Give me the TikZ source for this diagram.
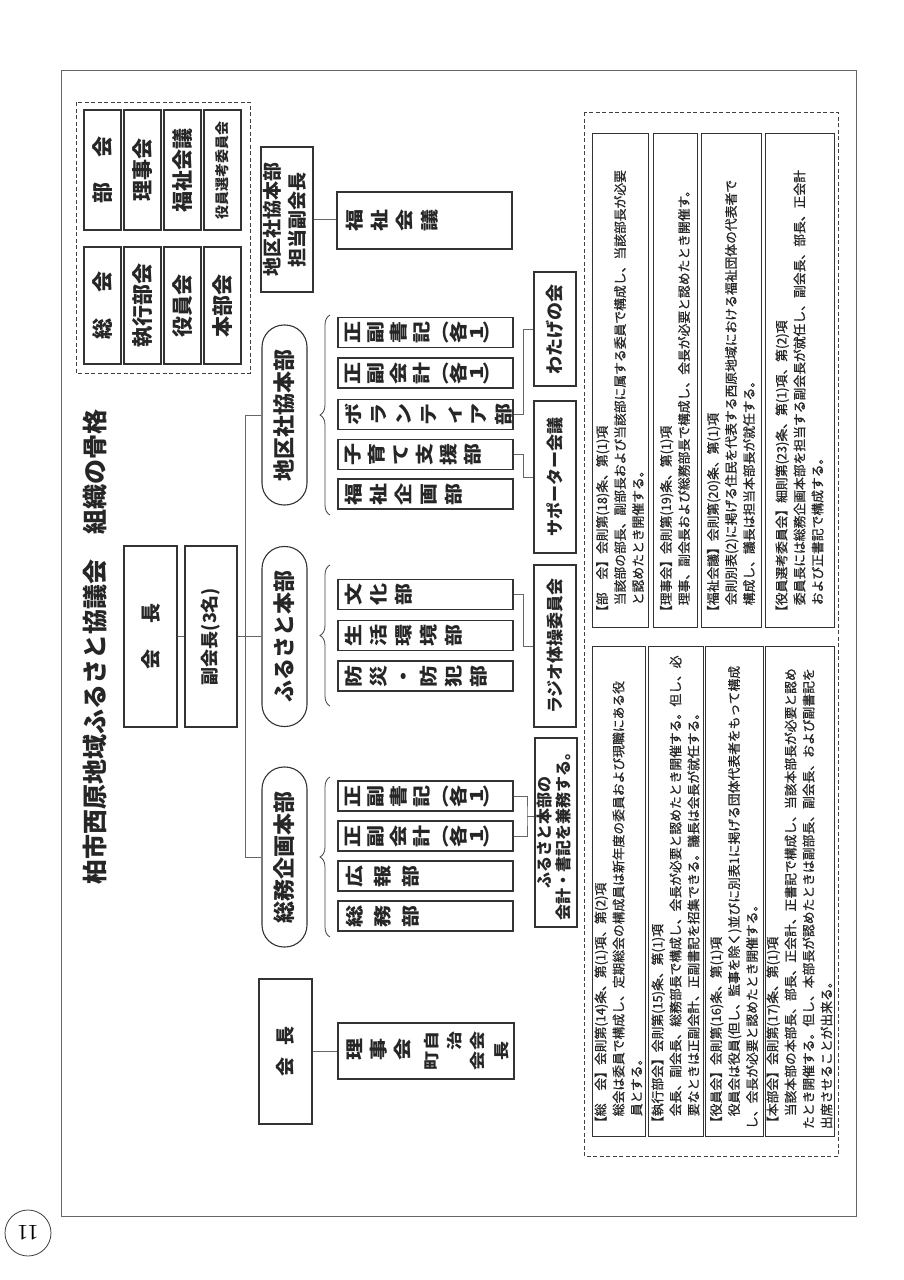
\documentclass[tikz,border=0pt]{standalone}
\usepackage{fontspec}
\usepackage{graphicx}
\setmainfont{Noto Sans CJK JP}
\newfontfamily\notefont[FakeBold=0.8]{Noto Sans CJK JP}
\newfontfamily\pnum{Liberation Serif}
\usetikzlibrary{decorations.pathreplacing}
\makeatletter
\newlength\tpitch
\newcommand\tchar[2][\tpitch]{\makebox[#1]{\rotatebox{90}{\scalebox{1}[0.82]{\makebox[1em]{\rule[-0.12em]{0pt}{1em}#2}}}}}
\newcommand\tatex[2]{\setlength\tpitch{#1}\@tfor\tmp:=#2\do{\tchar{\tmp}}}
\makeatother
\newcommand\rtx[1]{\rotatebox{90}{#1}}
\newcommand\dep[2]{\makebox[175pt][l]{\hspace{3pt}\fontsize{22}{22}\selectfont\bfseries\tatex{#1}{#2}}}
\newcommand\kak[1]{\makebox[175pt][l]{\hspace{3pt}\fontsize{22}{22}\selectfont\bfseries\tatex{23pt}{正副#1}\tchar[15pt]{︵}\tchar[21pt]{各}\tchar[15pt]{1}\tchar[15pt]{︶}}}
\newcommand\notetxt[1]{\rtx{\parbox{476pt}{\notefont\fontsize{12.8}{18}\selectfont\raggedright #1}}}
\begin{document}
\begin{tikzpicture}[x=1pt,y=-1pt,
 bx/.style={draw=black!80, line width=1.1pt, inner sep=0pt, text=black!85},
 hq/.style={bx, rounded corners=22pt, minimum width=45pt, minimum height=180pt},
 dept/.style={bx, minimum width=175pt, minimum height=30pt},
 lg/.style={bx, minimum width=37pt},
 sub/.style={bx, minimum width=42pt},
 note/.style={bx, line width=0.9pt, text=black!85},
 conn/.style={draw=black!60, line width=0.7pt},
 brc/.style={draw=black!75, line width=0.8pt, decorate, decoration={brace, amplitude=10pt}},
 dsh/.style={draw=black!75, line width=1pt, dash pattern=on 4pt off 2.5pt}]
\useasboundingbox (0,0) rectangle (903,1280);
\fill[white] (0,0) rectangle (903,1280);
% page frame
\draw[draw=black!60, line width=0.8pt] (61,70) rectangle (856,1216);
% title
\node[text=black!85] (title) at (95,647) {\rtx{\fontsize{25}{25}\selectfont\bfseries 柏市西原地域ふるさと協議会　組織の骨格}};
% legend
\draw[dsh] (76,102) rectangle (250,373);
\node[lg, minimum height=120pt] (lgA1) at (102.5,170) {\rtx{\fontsize{21}{21}\selectfont\bfseries 部\hspace{1.2em}会}};
\node[lg, minimum height=120pt] (lgA2) at (142.5,170) {\rtx{\fontsize{21}{21}\selectfont\bfseries 理事会}};
\node[lg, minimum height=120pt] (lgA3) at (182.5,170) {\rtx{\fontsize{21}{21}\selectfont\bfseries 福祉会議}};
\node[lg, minimum height=120pt] (lgA4) at (222.5,170) {\rtx{\fontsize{14}{14}\selectfont\bfseries 役員選考委員会}};
\node[lg, minimum height=117pt] (lgB1) at (102.5,305.5) {\rtx{\fontsize{21}{21}\selectfont\bfseries 総\hspace{1.2em}会}};
\node[lg, minimum height=117pt] (lgB2) at (142.5,305.5) {\rtx{\fontsize{21}{21}\selectfont\bfseries 執行部会}};
\node[lg, minimum height=117pt] (lgB3) at (182.5,305.5) {\rtx{\fontsize{21}{21}\selectfont\bfseries 役員会}};
\node[lg, minimum height=117pt] (lgB4) at (222.5,305.5) {\rtx{\fontsize{21}{21}\selectfont\bfseries 本部会}};
% welfare council
\node[bx, minimum width=52pt, minimum height=145pt] (tantou) at (287,219.5) {\rtx{\fontsize{19}{25}\selectfont\bfseries\begin{tabular}{@{}c@{}}地区社協本部\\担当副会長\end{tabular}}};
\node[bx, minimum width=175pt, minimum height=57pt] (fukushi) at (424.5,220.5) {\makebox[175pt][l]{\hspace{5pt}\fontsize{22}{22}\selectfont\bfseries\tatex{25pt}{福祉会議}}};
\draw[conn] (tantou.east) -- (tantou.east -| fukushi.west);
% top
\node[bx, minimum width=53pt, minimum height=181pt] (kaicho) at (150.5,636.5) {\rtx{\fontsize{20}{20}\selectfont\bfseries 会\hspace{1.3em}長}};
\node[bx, minimum width=52pt, minimum height=181pt] (fuku) at (211,636.5) {\rtx{\fontsize{18}{18}\selectfont\bfseries 副会長(3名)}};
% headquarters
\node[hq] (chiku) at (284.5,415) {\rtx{\fontsize{22}{22}\selectfont\bfseries 地区社協本部}};
\node[hq] (furu) at (284.5,636.5) {\rtx{\fontsize{22}{22}\selectfont\bfseries ふるさと本部}};
\node[hq] (somu) at (284.5,857) {\rtx{\fontsize{22}{22}\selectfont\bfseries 総務企画本部}};
\coordinate (tT) at (245,415);
\coordinate (tB) at (245,857);
\draw[conn] (kaicho.east) -- (fuku.west);
\draw[conn] (fuku.east) -- (furu.west);
\draw[conn] (chiku.west) -- (tT) -- (tB) -- (somu.west);
% braces
\draw[brc] (330,515) -- (330,315);
\draw[brc] (330,706) -- (330,565);
\draw[brc] (330,937) -- (330,777);
% departments
\node[dept] (d1) at (425.5,332.5) {\kak{書記}};
\node[dept] (d2) at (425.5,373) {\kak{会計}};
\node[dept] (d3) at (425.5,414.5) {\dep{25pt}{ボランティア部}};
\node[dept] (d4) at (425.5,454.5) {\dep{24pt}{子育て支援部}};
\node[dept] (d5) at (425.5,494) {\dep{25pt}{福祉企画部}};
\node[dept] (f1) at (425.5,594.5) {\dep{25pt}{文化部}};
\node[dept] (f2) at (425.5,635.5) {\dep{25pt}{生活環境部}};
\node[dept] (f3) at (425.5,676) {\dep{25pt}{防災・防犯部}};
\node[dept] (s1) at (425.5,796) {\kak{書記}};
\node[dept] (s2) at (425.5,836) {\kak{会計}};
\node[dept] (s3) at (425.5,876) {\dep{28pt}{広報部}};
\node[dept] (s4) at (425.5,916) {\dep{28pt}{総務部}};
% sub groups
\node[sub, minimum height=114pt] (wata) at (555,329) {\rtx{\fontsize{18}{18}\selectfont\bfseries わたげの会}};
\node[sub, minimum height=152pt] (sup) at (555,477) {\rtx{\fontsize{17}{17}\selectfont\bfseries サポーター会議}};
\node[sub, minimum height=162pt] (radio) at (555,646) {\rtx{\fontsize{17}{17}\selectfont\bfseries ラジオ体操委員会}};
\node[sub, minimum height=189pt] (kenmu) at (556,832.5) {\rtx{\fontsize{16}{19}\selectfont\bfseries\begin{tabular}{@{}c@{}}ふるさと本部の\\会計・書記を兼務する。\end{tabular}}};
\draw[conn] (d3.east) -- ++(10,0) |- (wata.west);
\draw[conn] (d4.east) -- ++(10,0) |- (sup.west);
\draw[conn] (f1.east) -- ++(10,0) |- (radio.west);
\coordinate (km) at (527,816);
\draw[conn] (s1.east) -| (km) |- (s2.east);
\draw[conn] (km) -- (km -| kenmu.west);
% bottom-left
\node[bx, minimum width=53pt, minimum height=145pt] (kai2) at (285.5,1051.5) {\rtx{\fontsize{19}{19}\selectfont\bfseries 会\hspace{0.6em}長}};
\node[bx, minimum width=176pt, minimum height=56pt] (riji) at (426,1051) {\makebox[176pt][l]{\hspace{5pt}\fontsize{22}{22}\selectfont\bfseries\tatex{24pt}{理事会}\hspace{5pt}\fontsize{19}{19}\selectfont\rlap{\raisebox{10pt}{\tchar[23pt]{自}\tchar[23pt]{治}\tchar[23pt]{会}}}\raisebox{-10pt}{\tchar[23pt]{町}\tchar[23pt]{}\tchar[23pt]{会}}\tchar[25pt]{長}}};
\draw[conn] (kai2.east) -- (kai2.east -| riji.west);
% notes
\draw[dsh] (584,112) rectangle (838,1156);
\node[note, minimum width=56pt, minimum height=494pt] (U1) at (620,380) {\notetxt{【部　会】会則第(18)条、第(1)項\\\hspace*{1em}当該部の部長、副部長および当該部に属する委員で構成し、当該部長が必要\\\hspace*{1em}と認めたとき開催する。}};
\node[note, minimum width=44pt, minimum height=494pt] (U2) at (675,380) {\notetxt{【理事会】会則第(19)条、第(1)項\\\hspace*{1em}理事、副会長および総務部長で構成し、会長が必要と認めたとき開催す。}};
\node[note, minimum width=60pt, minimum height=494pt] (U3) at (731,380) {\notetxt{【福祉会議】会則第(20)条、第(1)項\\\hspace*{1em}会則別表(2)に掲げる住民を代表する西原地域における福祉団体の代表者で\\\hspace*{1em}構成し、議長は担当本部長が就任する。}};
\node[note, minimum width=69pt, minimum height=494pt] (U4) at (799.5,380) {\notetxt{【役員選考委員会】細則第(23)条、第(1)項、第(2)項\\\hspace*{1em}委員長には総務企画本部を担当する副会長が就任し、副会長、部長、正会計\\\hspace*{1em}および正書記で構成する。}};
\node[note, minimum width=53pt, minimum height=490pt] (L1) at (618.5,891) {\notetxt{【総　会】会則第(14)条、第(1)項、第(2)項\\\hspace*{1em}総会は委員で構成し、定期総会の構成員は新年度の委員および現職にある役\\\hspace*{1em}員とする。}};
\node[note, minimum width=55pt, minimum height=490pt] (L2) at (675.5,891) {\notetxt{【執行部会】会則第(15)条、第(1)項\\\hspace*{1em}会長、副会長、総務部長で構成し、会長が必要と認めたとき開催する。但し、必\\\hspace*{1em}要なときは正副会計、正副書記を招集できる。議長は会長が就任する。}};
\node[note, minimum width=58pt, minimum height=490pt] (L3) at (734,891) {\notetxt{【役員会】会則第(16)条、第(1)項\\\hspace*{1em}役員会は役員(但し、監事を除く)並びに別表1に掲げる団体代表者をもって構成\\し、会長が必要と認めたとき開催する。}};
\node[note, minimum width=69pt, minimum height=490pt] (L4) at (799.5,891) {\notetxt{【本部会】会則第(17)条、第(1)項\\\hspace*{1em}当該本部の本部長、部長、正会計、正書記で構成し、当該本部長が必要と認め\\たとき開催する。但し、本部長が認めたときは副部長、副会長、および副書記を\\出席させることが出来る。}};
% page number
\node[circle, draw=black!75, line width=0.8pt, minimum size=46pt, inner sep=0pt] (pg) at (28,1233) {\rotatebox{180}{\pnum\fontsize{22}{22}\selectfont 11}};
\end{tikzpicture}
\end{document}
